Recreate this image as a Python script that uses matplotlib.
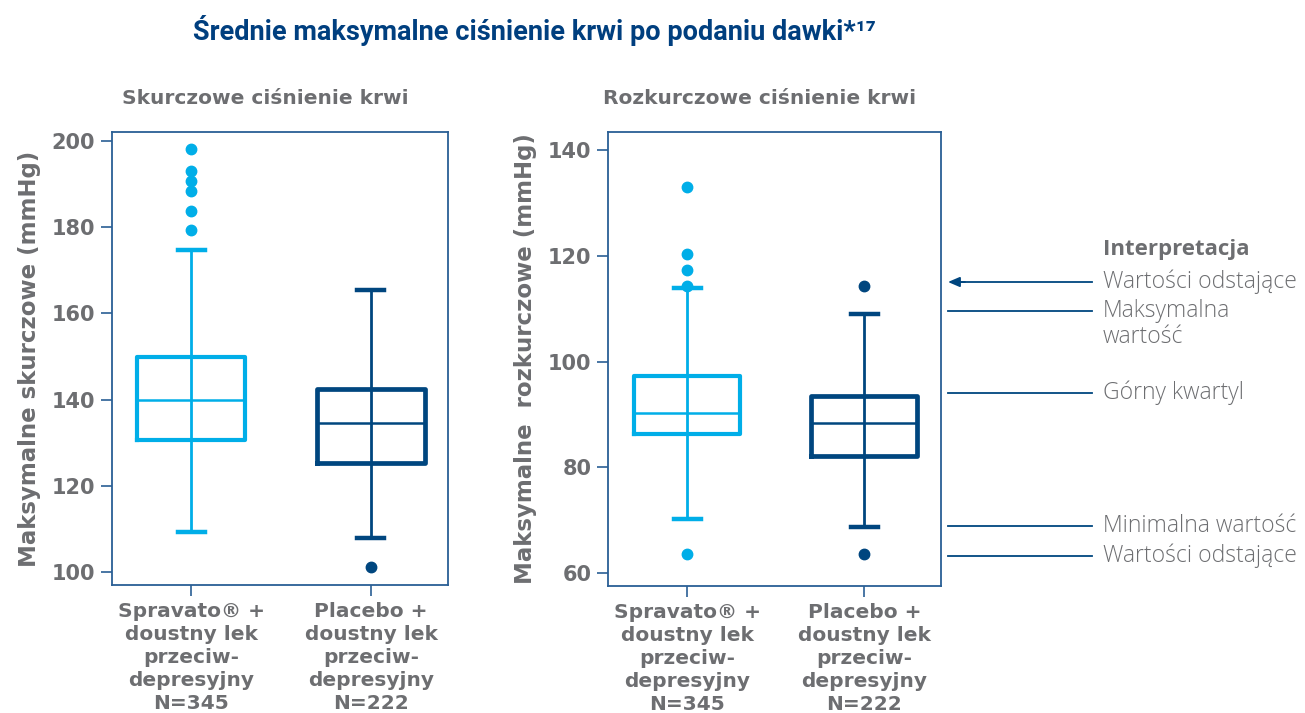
import matplotlib.pyplot as plt
from matplotlib.lines import Line2D

# --- data ---
groups = ['Spravato® +\ndoustny lek\nprzeciw-\ndepresyjny\nN=345',
          'Placebo +\ndoustny lek\nprzeciw-\ndepresyjny\nN=222']

# systolic (skurczowe)
sys_whislo = [109.2, 107.8]
sys_q1 = [130.6, 125.2]
sys_med = [140.0, 134.6]
sys_q3 = [149.8, 142.4]
sys_whishi = [174.7, 165.4]
sys_fliers = [[179.3, 183.8, 188.3, 190.7, 193.0, 198.1], [101.2]]

# diastolic (rozkurczowe)
dia_whislo = [70.2, 68.7]
dia_q1 = [86.3, 82.2]
dia_med = [90.2, 88.3]
dia_q3 = [97.3, 93.5]
dia_whishi = [113.9, 109.1]
dia_fliers = [[63.6, 114.3, 117.4, 120.3, 133.1], [63.6, 114.3]]

interp_labels = ['Wartości odstające', 'Maksymalna\nwartość', 'Górny kwartyl',
                 'Minimalna wartość', 'Wartości odstające']

LIGHT = '#00aee8'
DARK = '#00467f'
GREY = '#6d6e71'
FRAME = '#2a5f95'
BOLDFONT = ['DejaVu Sans']

plt.rcParams['font.family'] = ['Open Sans', 'DejaVu Sans']

W, H = 1305, 713
fig = plt.figure(figsize=(W / 100, H / 100), dpi=100)


def px(x0, y0, x1, y1):
    return [x0 / W, 1 - y1 / H, (x1 - x0) / W, (y1 - y0) / H]


def draw_panel(ax, whislo, q1, med, q3, whishi, fliers, ylim, yticks, ylabel, title, xlim, title_x):
    colors = [LIGHT, DARK]
    lws = [3.0, 3.4]
    for i in range(2):
        stats = [dict(whislo=whislo[i], q1=q1[i], med=med[i], q3=q3[i],
                      whishi=whishi[i], fliers=fliers[i])]
        c = colors[i]
        ax.bxp(stats, positions=[i + 1], widths=0.6, showfliers=True,
               boxprops=dict(color=c, lw=lws[i]),
               medianprops=dict(color=c, lw=1.8),
               whiskerprops=dict(color=c, lw=2.0),
               capprops=dict(color=c, lw=3.2),
               capwidths=0.15,
               flierprops=dict(marker='o', markerfacecolor=c, markeredgecolor=c,
                               markersize=7.5))
        # whisker line running through the box
        ax.vlines(i + 1, q1[i], q3[i], color=c, lw=2.0)
    ax.set_xlim(*xlim)
    ax.set_ylim(*ylim)
    ax.set_yticks(yticks)
    ax.set_xticks([1, 2])
    ax.set_xticklabels(groups, fontsize=14.5, fontweight='bold', color=GREY,
                       linespacing=1.27, va='top', family=BOLDFONT)
    for lab in ax.get_yticklabels():
        lab.set_fontsize(15)
        lab.set_fontweight('bold')
        lab.set_color(GREY)
        lab.set_family(BOLDFONT)
    ax.tick_params(axis='both', direction='out', length=8, width=1.2, color=FRAME)
    ax.tick_params(axis='y', pad=4)
    ax.tick_params(axis='x', pad=4)
    for s in ax.spines.values():
        s.set_color(FRAME)
        s.set_linewidth(1.3)
    ax.set_ylabel(ylabel, fontsize=16.5, fontweight='bold', color=GREY, labelpad=8,
                  family=BOLDFONT)
    ax.set_title(title, loc='left', x=title_x, pad=20, fontsize=14.5,
                 fontweight='bold', color=GREY, family=BOLDFONT)


ax1 = fig.add_axes(px(112, 132, 448, 585))
draw_panel(ax1, sys_whislo, sys_q1, sys_med, sys_q3, sys_whishi, sys_fliers,
           (97.0, 202.1), [100, 120, 140, 160, 180, 200],
           'Maksymalne skurczowe (mmHg)', 'Skurczowe ciśnienie krwi', (0.561, 2.428), 0.03)

ax2 = fig.add_axes(px(608, 132, 941, 586))
draw_panel(ax2, dia_whislo, dia_q1, dia_med, dia_q3, dia_whishi, dia_fliers,
           (57.5, 143.5), [60, 80, 100, 120, 140],
           'Maksymalne  rozkurczowe (mmHg)', 'Rozkurczowe ciśnienie krwi', (0.552, 2.433), -0.015)

fig.text(534 / W, 1 - 30 / H, 'Średnie maksymalne ciśnienie krwi po podaniu dawki*¹⁷',
         ha='center', va='center', fontsize=19.5, fontweight='bold', color='#003f7f',
         family=['Roboto', 'DejaVu Sans'])

# interpretation key
fig.text(1103 / W, 1 - 249 / H, 'Interpretacja', ha='left', va='center',
         fontsize=16, fontweight='bold', color=GREY)
line_y = [282, 311, 393, 526, 556]
for k, (yy, lab) in enumerate(zip(line_y, interp_labels)):
    if k == 0:
        fig.add_artist(Line2D([960 / W, 1092 / W], [1 - yy / H, 1 - yy / H],
                              transform=fig.transFigure, color=DARK, lw=1.3))
        ax2.annotate('', xy=(948 / W, 1 - yy / H), xytext=(965 / W, 1 - yy / H),
                     xycoords='figure fraction', textcoords='figure fraction',
                     arrowprops=dict(arrowstyle='-|>,head_length=0.7,head_width=0.3',
                                     color=DARK, lw=1.3, shrinkA=0, shrinkB=0),
                     annotation_clip=False)
    else:
        fig.add_artist(Line2D([948 / W, 1092 / W], [1 - yy / H, 1 - yy / H],
                              transform=fig.transFigure, color=DARK, lw=1.3))
    for j, part in enumerate(lab.split('\n')):
        fig.text(1103 / W, 1 - (yy + 26 * j) / H, part, ha='left', va='center',
                 fontsize=16.5, color=GREY, fontweight='light')

fig.savefig('out.png', dpi=100)
